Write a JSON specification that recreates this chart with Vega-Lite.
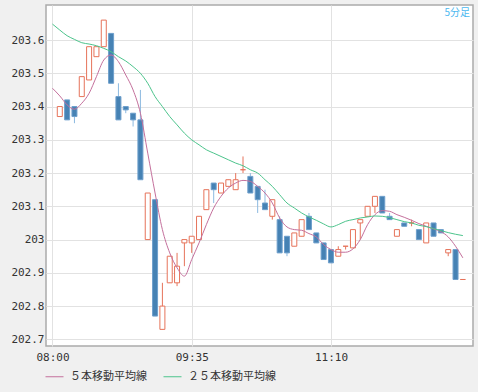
{
  "$schema": "https://vega.github.io/schema/vega-lite/v6.json",
  "width": 427,
  "height": 341,
  "autosize": {"type": "none"},
  "padding": {"left": 46, "top": 5, "right": 5, "bottom": 46},
  "background": "#f0f0f0",
  "title": {"text": "5分足", "anchor": "end", "frame": "group", "baseline": "top", "offset": 0, "dy": 13, "dx": -3, "font": "Noto Sans CJK JP", "fontSize": 10, "fontWeight": "normal", "color": "#4cb8f0"},
  "datasets": {
    "candles": [
      {"t": 5, "o": 203.37, "h": 203.40, "l": 203.37, "c": 203.40},
      {"t": 10, "o": 203.42, "h": 203.42, "l": 203.36, "c": 203.36},
      {"t": 15, "o": 203.40, "h": 203.40, "l": 203.35, "c": 203.37},
      {"t": 20, "o": 203.43, "h": 203.49, "l": 203.43, "c": 203.49},
      {"t": 25, "o": 203.48, "h": 203.58, "l": 203.48, "c": 203.58},
      {"t": 30, "o": 203.55, "h": 203.58, "l": 203.55, "c": 203.58},
      {"t": 35, "o": 203.58, "h": 203.66, "l": 203.58, "c": 203.66},
      {"t": 40, "o": 203.62, "h": 203.62, "l": 203.47, "c": 203.47},
      {"t": 45, "o": 203.43, "h": 203.47, "l": 203.36, "c": 203.36},
      {"t": 50, "o": 203.40, "h": 203.40, "l": 203.38, "c": 203.39},
      {"t": 55, "o": 203.38, "h": 203.38, "l": 203.34, "c": 203.36},
      {"t": 60, "o": 203.36, "h": 203.45, "l": 203.18, "c": 203.18},
      {"t": 65, "o": 203.00, "h": 203.14, "l": 203.00, "c": 203.14},
      {"t": 70, "o": 203.12, "h": 203.12, "l": 202.77, "c": 202.77},
      {"t": 75, "o": 202.73, "h": 202.87, "l": 202.73, "c": 202.80},
      {"t": 80, "o": 202.87, "h": 202.95, "l": 202.87, "c": 202.95},
      {"t": 85, "o": 202.87, "h": 202.96, "l": 202.86, "c": 202.92},
      {"t": 90, "o": 202.99, "h": 203.00, "l": 202.92, "c": 203.00},
      {"t": 95, "o": 202.99, "h": 203.01, "l": 202.96, "c": 203.01},
      {"t": 100, "o": 203.00, "h": 203.07, "l": 203.00, "c": 203.07},
      {"t": 105, "o": 203.09, "h": 203.15, "l": 203.09, "c": 203.15},
      {"t": 110, "o": 203.17, "h": 203.17, "l": 203.11, "c": 203.15},
      {"t": 115, "o": 203.14, "h": 203.17, "l": 203.14, "c": 203.17},
      {"t": 120, "o": 203.16, "h": 203.18, "l": 203.16, "c": 203.18},
      {"t": 125, "o": 203.15, "h": 203.20, "l": 203.15, "c": 203.18},
      {"t": 130, "o": 203.21, "h": 203.25, "l": 203.20, "c": 203.21},
      {"t": 135, "o": 203.19, "h": 203.20, "l": 203.14, "c": 203.14},
      {"t": 140, "o": 203.16, "h": 203.16, "l": 203.08, "c": 203.12},
      {"t": 145, "o": 203.11, "h": 203.15, "l": 203.09, "c": 203.09},
      {"t": 150, "o": 203.07, "h": 203.12, "l": 203.06, "c": 203.12},
      {"t": 155, "o": 203.06, "h": 203.07, "l": 202.96, "c": 202.96},
      {"t": 160, "o": 203.01, "h": 203.01, "l": 202.95, "c": 202.96},
      {"t": 165, "o": 202.98, "h": 203.02, "l": 202.98, "c": 203.02},
      {"t": 170, "o": 203.01, "h": 203.06, "l": 203.01, "c": 203.06},
      {"t": 175, "o": 203.07, "h": 203.08, "l": 203.03, "c": 203.03},
      {"t": 180, "o": 203.02, "h": 203.02, "l": 202.99, "c": 202.99},
      {"t": 185, "o": 202.99, "h": 202.99, "l": 202.94, "c": 202.94},
      {"t": 190, "o": 202.97, "h": 202.97, "l": 202.93, "c": 202.93},
      {"t": 195, "o": 202.95, "h": 202.98, "l": 202.95, "c": 202.97},
      {"t": 200, "o": 202.98, "h": 202.98, "l": 202.97, "c": 202.98},
      {"t": 205, "o": 202.975, "h": 203.03, "l": 202.975, "c": 203.03},
      {"t": 210, "o": 203.05, "h": 203.06, "l": 203.00, "c": 203.06},
      {"t": 215, "o": 203.07, "h": 203.10, "l": 203.07, "c": 203.10},
      {"t": 220, "o": 203.10, "h": 203.13, "l": 203.08, "c": 203.13},
      {"t": 225, "o": 203.13, "h": 203.13, "l": 203.08, "c": 203.08},
      {"t": 230, "o": 203.07, "h": 203.08, "l": 203.06, "c": 203.06},
      {"t": 235, "o": 203.01, "h": 203.03, "l": 203.01, "c": 203.03},
      {"t": 240, "o": 203.05, "h": 203.05, "l": 203.04, "c": 203.04},
      {"t": 245, "o": 203.05, "h": 203.06, "l": 203.04, "c": 203.05},
      {"t": 250, "o": 203.03, "h": 203.03, "l": 203.00, "c": 203.00},
      {"t": 255, "o": 202.99, "h": 203.05, "l": 202.99, "c": 203.05},
      {"t": 260, "o": 203.05, "h": 203.05, "l": 203.01, "c": 203.01},
      {"t": 265, "o": 203.03, "h": 203.03, "l": 203.02, "c": 203.02},
      {"t": 270, "o": 202.96, "h": 202.97, "l": 202.95, "c": 202.97},
      {"t": 275, "o": 202.97, "h": 202.97, "l": 202.88, "c": 202.88},
      {"t": 280, "o": 202.88, "h": 202.88, "l": 202.88, "c": 202.88}
    ],
    "ma": [
      {"t": 0, "ma5": 203.455, "ma25": 203.648},
      {"t": 5, "ma5": 203.432, "ma25": 203.63},
      {"t": 10, "ma5": 203.405, "ma25": 203.613},
      {"t": 15, "ma5": 203.392, "ma25": 203.602},
      {"t": 20, "ma5": 203.41, "ma25": 203.592},
      {"t": 25, "ma5": 203.44, "ma25": 203.588},
      {"t": 30, "ma5": 203.49, "ma25": 203.583},
      {"t": 35, "ma5": 203.54, "ma25": 203.575},
      {"t": 40, "ma5": 203.555, "ma25": 203.565},
      {"t": 45, "ma5": 203.535, "ma25": 203.55},
      {"t": 50, "ma5": 203.495, "ma25": 203.537},
      {"t": 55, "ma5": 203.45, "ma25": 203.52},
      {"t": 60, "ma5": 203.38, "ma25": 203.50},
      {"t": 65, "ma5": 203.26, "ma25": 203.47},
      {"t": 70, "ma5": 203.14, "ma25": 203.43},
      {"t": 75, "ma5": 203.03, "ma25": 203.40},
      {"t": 80, "ma5": 202.96, "ma25": 203.37},
      {"t": 85, "ma5": 202.915, "ma25": 203.345},
      {"t": 90, "ma5": 202.89, "ma25": 203.32},
      {"t": 95, "ma5": 202.94, "ma25": 203.30},
      {"t": 100, "ma5": 202.99, "ma25": 203.285},
      {"t": 105, "ma5": 203.045, "ma25": 203.27},
      {"t": 110, "ma5": 203.095, "ma25": 203.26},
      {"t": 115, "ma5": 203.13, "ma25": 203.25},
      {"t": 120, "ma5": 203.155, "ma25": 203.24},
      {"t": 125, "ma5": 203.17, "ma25": 203.23},
      {"t": 130, "ma5": 203.178, "ma25": 203.222},
      {"t": 135, "ma5": 203.175, "ma25": 203.21},
      {"t": 140, "ma5": 203.16, "ma25": 203.20},
      {"t": 145, "ma5": 203.14, "ma25": 203.18},
      {"t": 150, "ma5": 203.11, "ma25": 203.16},
      {"t": 155, "ma5": 203.065, "ma25": 203.135},
      {"t": 160, "ma5": 203.038, "ma25": 203.11},
      {"t": 165, "ma5": 203.03, "ma25": 203.095},
      {"t": 170, "ma5": 203.028, "ma25": 203.08},
      {"t": 175, "ma5": 203.018, "ma25": 203.068},
      {"t": 180, "ma5": 203.008, "ma25": 203.058},
      {"t": 185, "ma5": 202.985, "ma25": 203.047},
      {"t": 190, "ma5": 202.97, "ma25": 203.038},
      {"t": 195, "ma5": 202.962, "ma25": 203.045},
      {"t": 200, "ma5": 202.962, "ma25": 203.055},
      {"t": 205, "ma5": 202.972, "ma25": 203.06},
      {"t": 210, "ma5": 203.0, "ma25": 203.065},
      {"t": 215, "ma5": 203.045, "ma25": 203.068},
      {"t": 220, "ma5": 203.075, "ma25": 203.071},
      {"t": 225, "ma5": 203.087, "ma25": 203.07},
      {"t": 230, "ma5": 203.085, "ma25": 203.066},
      {"t": 235, "ma5": 203.075, "ma25": 203.06},
      {"t": 240, "ma5": 203.067, "ma25": 203.054},
      {"t": 245, "ma5": 203.058, "ma25": 203.05},
      {"t": 250, "ma5": 203.048, "ma25": 203.043},
      {"t": 255, "ma5": 203.04, "ma25": 203.039},
      {"t": 260, "ma5": 203.032, "ma25": 203.033},
      {"t": 265, "ma5": 203.024, "ma25": 203.027},
      {"t": 270, "ma5": 203.008, "ma25": 203.021},
      {"t": 275, "ma5": 202.98, "ma25": 203.016},
      {"t": 280, "ma5": 202.945, "ma25": 203.012}
    ]
  },
  "encoding": {
    "x": {
      "field": "t", "type": "quantitative",
      "scale": {"domain": [-1, 283.5], "nice": false, "zero": false},
      "axis": {
        "title": null, "values": [0, 95, 190],
        "labelExpr": "timeFormat(datetime(2000, 0, 1, 8, datum.value), '%H:%M')",
        "grid": true, "gridColor": "#e2e2e2", "tickSize": 0, "labelPadding": 5,
        "domain": false, "labelFlush": false, "labelOverlap": false
      }
    }
  },
  "layer": [
    {
      "data": {"name": "candles"},
      "mark": {"type": "rule", "strokeWidth": 1},
      "encoding": {
        "y": {
          "field": "l", "type": "quantitative",
          "scale": {"domain": [202.68, 203.7054], "nice": false, "zero": false},
          "axis": {
            "title": null,
            "values": [202.7, 202.8, 202.9, 203.0, 203.1, 203.2, 203.3, 203.4, 203.5, 203.6],
            "format": ".1~f", "grid": true, "gridColor": "#e2e2e2", "tickSize": 0,
            "labelPadding": 2, "domain": false, "labelOverlap": false, "labelFlush": false
          }
        },
        "y2": {"field": "h"},
        "stroke": {"condition": {"test": "datum.c >= datum.o", "value": "#e6735a"}, "value": "#8cb9e0"}
      }
    },
    {
      "data": {"name": "candles"},
      "mark": {"type": "bar", "width": 5, "strokeWidth": 1},
      "encoding": {
        "y": {
          "field": "o", "type": "quantitative",
          "scale": {"domain": [202.68, 203.7054], "nice": false, "zero": false},
          "axis": {
            "title": null,
            "values": [202.7, 202.8, 202.9, 203.0, 203.1, 203.2, 203.3, 203.4, 203.5, 203.6],
            "format": ".1~f", "grid": true, "gridColor": "#e2e2e2", "tickSize": 0,
            "labelPadding": 2, "domain": false, "labelOverlap": false, "labelFlush": false
          }
        },
        "y2": {"field": "c"},
        "fill": {"condition": {"test": "datum.c >= datum.o", "value": "#ffffff"}, "value": "#4682b4"},
        "stroke": {"condition": {"test": "datum.c >= datum.o", "value": "#e6735a"}, "value": "#6e9fcc"}
      }
    },
    {
      "data": {"name": "ma"},
      "transform": [{"fold": ["ma5", "ma25"], "as": ["series", "value"]}],
      "mark": {"type": "line", "strokeWidth": 1, "interpolate": "monotone"},
      "encoding": {
        "y": {
          "field": "value", "type": "quantitative",
          "scale": {"domain": [202.68, 203.7054], "nice": false, "zero": false},
          "axis": {
            "title": null,
            "values": [202.7, 202.8, 202.9, 203.0, 203.1, 203.2, 203.3, 203.4, 203.5, 203.6],
            "format": ".1~f", "grid": true, "gridColor": "#e2e2e2", "tickSize": 0,
            "labelPadding": 2, "domain": false, "labelOverlap": false, "labelFlush": false
          }
        },
        "color": {
          "field": "series", "type": "nominal",
          "scale": {"domain": ["ma5", "ma25"], "range": ["#c4709c", "#4cc48c"]},
          "legend": {
            "orient": "none", "legendX": -1, "legendY": 362, "direction": "horizontal",
            "title": null, "symbolType": "stroke", "symbolSize": 324, "symbolStrokeWidth": 1,
            "labelExpr": "datum.value == 'ma5' ? '５本移動平均線' : '２５本移動平均線'",
            "labelFont": "Noto Sans CJK JP", "labelFontSize": 11, "labelColor": "#333333",
            "labelOffset": 6, "columnPadding": 14, "padding": 0
          }
        }
      }
    }
  ],
  "config": {
    "view": {"fill": "#ffffff", "stroke": "#aaaaaa", "strokeWidth": 1.5},
    "axis": {"labelFont": "DejaVu Sans Mono", "labelFontSize": 11, "labelColor": "#333333"}
  }
}
